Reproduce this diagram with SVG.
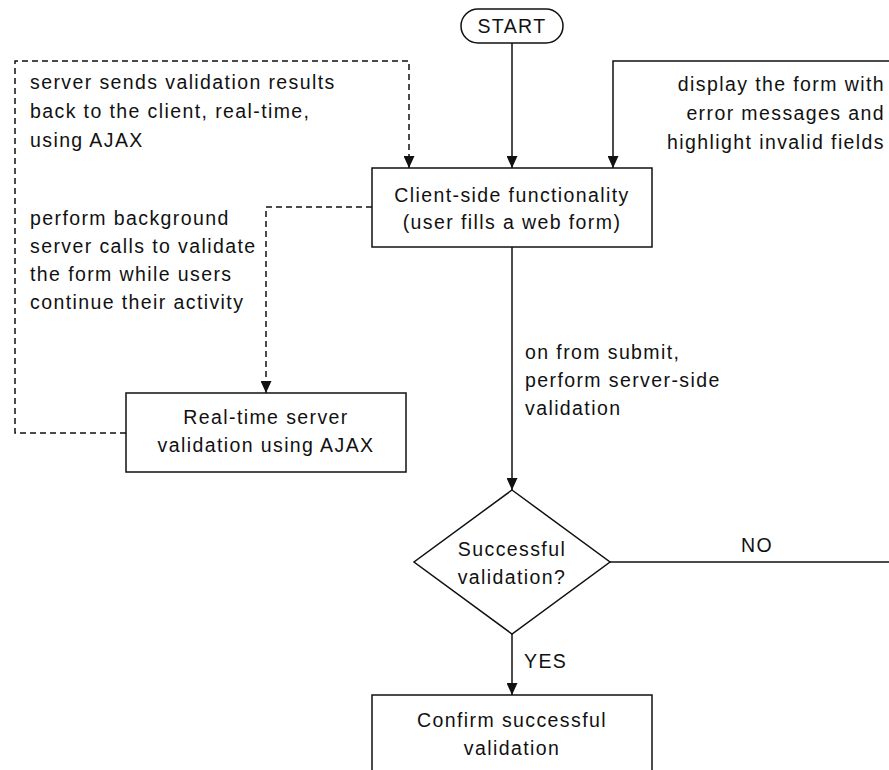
<svg xmlns="http://www.w3.org/2000/svg" width="889" height="770" viewBox="0 0 889 770">
<style>
  .box{fill:#fff;stroke:#111;stroke-width:1.5}
  .t{font-family:"Liberation Sans",Arial,sans-serif;font-size:19.5px;letter-spacing:1.4px;fill:#111}
  .c{text-anchor:middle}
  .r{text-anchor:end}
  .ln{fill:none;stroke:#111;stroke-width:1.5}
  .dash{fill:none;stroke:#111;stroke-width:1.5;stroke-dasharray:6 4}
</style>
<defs>
  <marker id="arr" viewBox="0 0 12 11" refX="12" refY="5.5" markerWidth="12" markerHeight="11" markerUnits="userSpaceOnUse" orient="auto">
    <path d="M0,0 L12,5.5 L0,11 z" fill="#111"/>
  </marker>
</defs>
<rect width="889" height="770" fill="#fff"/>
<g id="connectors">
  <path class="ln" d="M512,43 V168" marker-end="url(#arr)"/>
  <path class="ln" d="M610,562 H900 V61 H613 V168" marker-end="url(#arr)"/>
  <path class="dash" d="M126,433 H15 V61 H409 V168" marker-end="url(#arr)"/>
  <path class="dash" d="M372,207 H266 V393" marker-end="url(#arr)"/>
  <path class="ln" d="M512,247 V490" marker-end="url(#arr)"/>
  <path class="ln" d="M512,634 V695" marker-end="url(#arr)"/>
</g>
<g id="labels">
  <text class="t" x="30" y="89">server sends validation results</text>
  <text class="t" x="30" y="118">back to the client, real-time,</text>
  <text class="t" x="30" y="147">using AJAX</text>
  <text class="t" x="30" y="225">perform background</text>
  <text class="t" x="30" y="253">server calls to validate</text>
  <text class="t" x="30" y="281">the form while users</text>
  <text class="t" x="30" y="309">continue their activity</text>
  <text class="t r" x="885" y="91">display the form with</text>
  <text class="t r" x="885" y="120">error messages and</text>
  <text class="t r" x="885" y="149">highlight invalid fields</text>
  <text class="t" x="525" y="359">on from submit,</text>
  <text class="t" x="525" y="387">perform server-side</text>
  <text class="t" x="525" y="415">validation</text>
  <text class="t c" x="757" y="552">NO</text>
  <text class="t" x="524" y="668">YES</text>
</g>
<g id="start">
  <rect class="box" x="461" y="9" width="102" height="34" rx="17"/>
  <text class="t c" x="512" y="33">START</text>
</g>
<g id="client">
  <rect class="box" x="372" y="168" width="280" height="79"/>
  <text class="t c" x="512" y="202">Client-side functionality</text>
  <text class="t c" x="512" y="229">(user fills a web form)</text>
</g>
<g id="realtime">
  <rect class="box" x="126" y="393" width="280" height="79"/>
  <text class="t c" x="266" y="424">Real-time server</text>
  <text class="t c" x="266" y="452">validation using AJAX</text>
</g>
<g id="decision">
  <polygon class="box" points="512,490 610,562 512,634 414,562"/>
  <text class="t c" x="512" y="556">Successful</text>
  <text class="t c" x="512" y="584">validation?</text>
</g>
<g id="confirm">
  <rect class="box" x="372" y="695" width="280" height="100"/>
  <text class="t c" x="512" y="727">Confirm successful</text>
  <text class="t c" x="512" y="755">validation</text>
</g>
</svg>
